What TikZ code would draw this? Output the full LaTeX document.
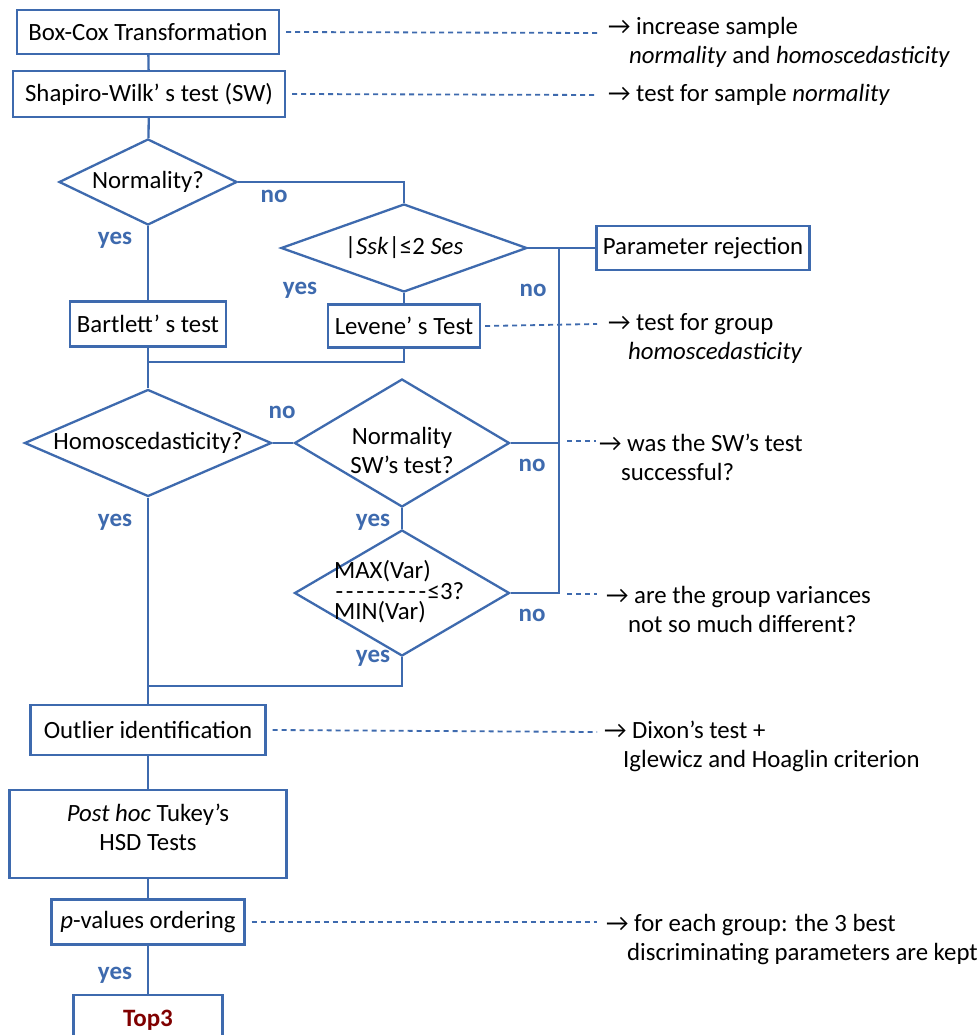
\documentclass[tikz,border=0pt]{standalone}
\usepackage{fontspec}
\setmainfont{Carlito}
\newfontfamily\plainfont{Carlito}
\usetikzlibrary{shapes.geometric}
\definecolor{flowblue}{RGB}{62,106,174}
\definecolor{topred}{RGB}{128,0,0}

\begin{document}
\begin{tikzpicture}[x=1pt,y=-1pt,line width=2.3pt,
    every node/.style={font=\fontsize{24.8}{29}\selectfont},
    box/.style={draw=flowblue,rectangle,inner sep=0pt},
    dia/.style={draw=flowblue,diamond,inner sep=0pt},
    ann/.style={anchor=west,align=left,inner sep=0pt},
    yn/.style={text=flowblue,font=\fontsize{25}{29}\selectfont\bfseries},
    link/.style={draw=flowblue},
    note/.style={draw=flowblue,line width=1.8pt,dash pattern=on 5pt off 4pt}]
\useasboundingbox (0,0) rectangle (979,1035);
\clip (0,0) rectangle (979,1035);
\fill[white] (0,0) rectangle (979,1035);

% main column
\node[box,minimum width=262,minimum height=44] (boxcox) at (148,32) {Box-Cox Transformation};
\node[box,minimum width=272,minimum height=46] (sw) at (149,94) {Shapiro-Wilk’ s test (SW)};
\node[dia,minimum width=178,minimum height=86] (norm) at (148,182) {};
\node (norm-t) at (norm) {Normality?};
\node[box,minimum width=156,minimum height=45] (bart) at (148,324) {Bartlett’ s test};
\node[dia,minimum width=247,minimum height=107] (homo) at (148,443) {};
\node (homo-t) at (homo) {Homoscedasticity?};
\node[box,minimum width=235,minimum height=50] (outl) at (148,730) {Outlier identification};
\node[box,minimum width=277,minimum height=88] (posthoc) at (148,834) {};
\node[align=center] (posthoc-t) at (148,827) {\textit{Post hoc} Tukey’s\\HSD Tests};
\node[box,minimum width=193,minimum height=45] (pval) at (148,922) {\textit{p}-values ordering};
\node[box,minimum width=149,minimum height=50,text=topred,font=\fontsize{25}{29}\selectfont\bfseries] (top3) at (148,1020) {Top3};

% right column
\node[dia,minimum width=246,minimum height=88] (ssk) at (404,248) {};
\node (ssk-t) at (ssk) {|\textit{Ssk}|≤2 \textit{Ses}};
\node[box,minimum width=152,minimum height=43] (lev) at (404,326) {Levene’ s Test};
\node[box,minimum width=213,minimum height=44] (rej) at (703,248) {Parameter rejection};
\node[dia,minimum width=215,minimum height=128] (swn) at (402,443) {};
\node[align=center] (swn-t) at (402,450) {Normality\\SW’s test?};
\node[dia,minimum width=215,minimum height=126] (maxv) at (402,593) {};
\node[anchor=west,align=left,inner sep=0pt,font=\fontsize{24.8}{20.5}\selectfont] (maxv-t) at (333,592)
    {MAX(Var)\\{\plainfont\foreach \i in {1,...,9}{\makebox[10.4pt]{-}}}≤3?\\MIN(Var)};

\coordinate (hub) at (559,248);
\coordinate (join1) at (148,362);
\coordinate (join2) at (148,686);

% connectors
\draw[link] (boxcox) -- (sw);
\draw[link] (sw) -- (norm);
\draw[link] (norm.east) -| (ssk.north);
\draw[link] (norm) -- (bart);
\draw[link] (ssk) -- (lev);
\draw[link] (ssk.east) -- (rej.west);
\draw[link] (bart) -- (join1) -| (lev.south);
\draw[link] (join1) -- (homo);
\draw[link] (homo) -- (swn);
\draw[link] (swn) -- (maxv);
\draw[link] (swn.east) -- (swn.east -| hub);
\draw[link] (maxv.east) -- (maxv.east -| hub) -- (hub);
\draw[link] (maxv.south) |- (join2);
\draw[link] (homo) -- (outl);
\draw[link] (outl) -- (posthoc);
\draw[link] (posthoc) -- (pval);
\draw[link] (pval) -- (top3);

% yes / no
\node[yn] (y1) at (115,240) {yes};
\node[yn] (n1) at (274,196) {no};
\node[yn] (y2) at (300,290) {yes};
\node[yn] (n2) at (533,290) {no};
\node[yn] (n3) at (282,412) {no};
\node[yn] (y3) at (115,522) {yes};
\node[yn] (n4) at (532,465) {no};
\node[yn] (y4) at (373,522) {yes};
\node[yn] (n5) at (532,615) {no};
\node[yn] (y5) at (373,658) {yes};
\node[yn] (y6) at (115,975) {yes};

% notes
\coordinate (e1) at (597,33);
\coordinate (e2) at (597,95);
\coordinate (e3) at (597,324);
\coordinate (s4) at (567,441);
\coordinate (e4) at (596,441);
\coordinate (s5) at (567,594);
\coordinate (e5) at (597,594);
\coordinate (e6) at (597,732);
\coordinate (e7) at (597,922);
\draw[note] (boxcox.east) ++(6,0) -- (e1);
\draw[note] (sw.east) ++(6,0) -- (e2);
\draw[note] (lev.east) ++(4,0) -- (e3);
\draw[note] (s4) -- (e4);
\draw[note] (s5) -- (e5);
\draw[note] (outl.east) ++(6,0) -- (e6);
\draw[note] (pval.east) ++(6,0) -- (e7);

\node[ann] (a1) at (607,42) {→ increase sample\\\hspace*{21pt}\textit{normality} and \textit{homoscedasticity}};
\node[ann] (a2) at (607,95) {→ test for sample \textit{normality}};
\node[ann] (a3) at (607,338) {→ test for group\\\hspace*{20pt}\textit{homoscedasticity}};
\node[ann] (a4) at (598,457) {→ was the SW’s test\\\hspace*{22pt}successful?};
\node[ann] (a5) at (605,609) {→ are the group variances\\\hspace*{22pt}not so much different?};
\node[ann] (a6) at (603,746) {→ Dixon’s test +\\\hspace*{19pt}Iglewicz and Hoaglin criterion};
\node[ann] (a7) at (605,940) {→ for each group: the 3 best\\\hspace*{21pt}discriminating parameters are kept};
\end{tikzpicture}
\end{document}
